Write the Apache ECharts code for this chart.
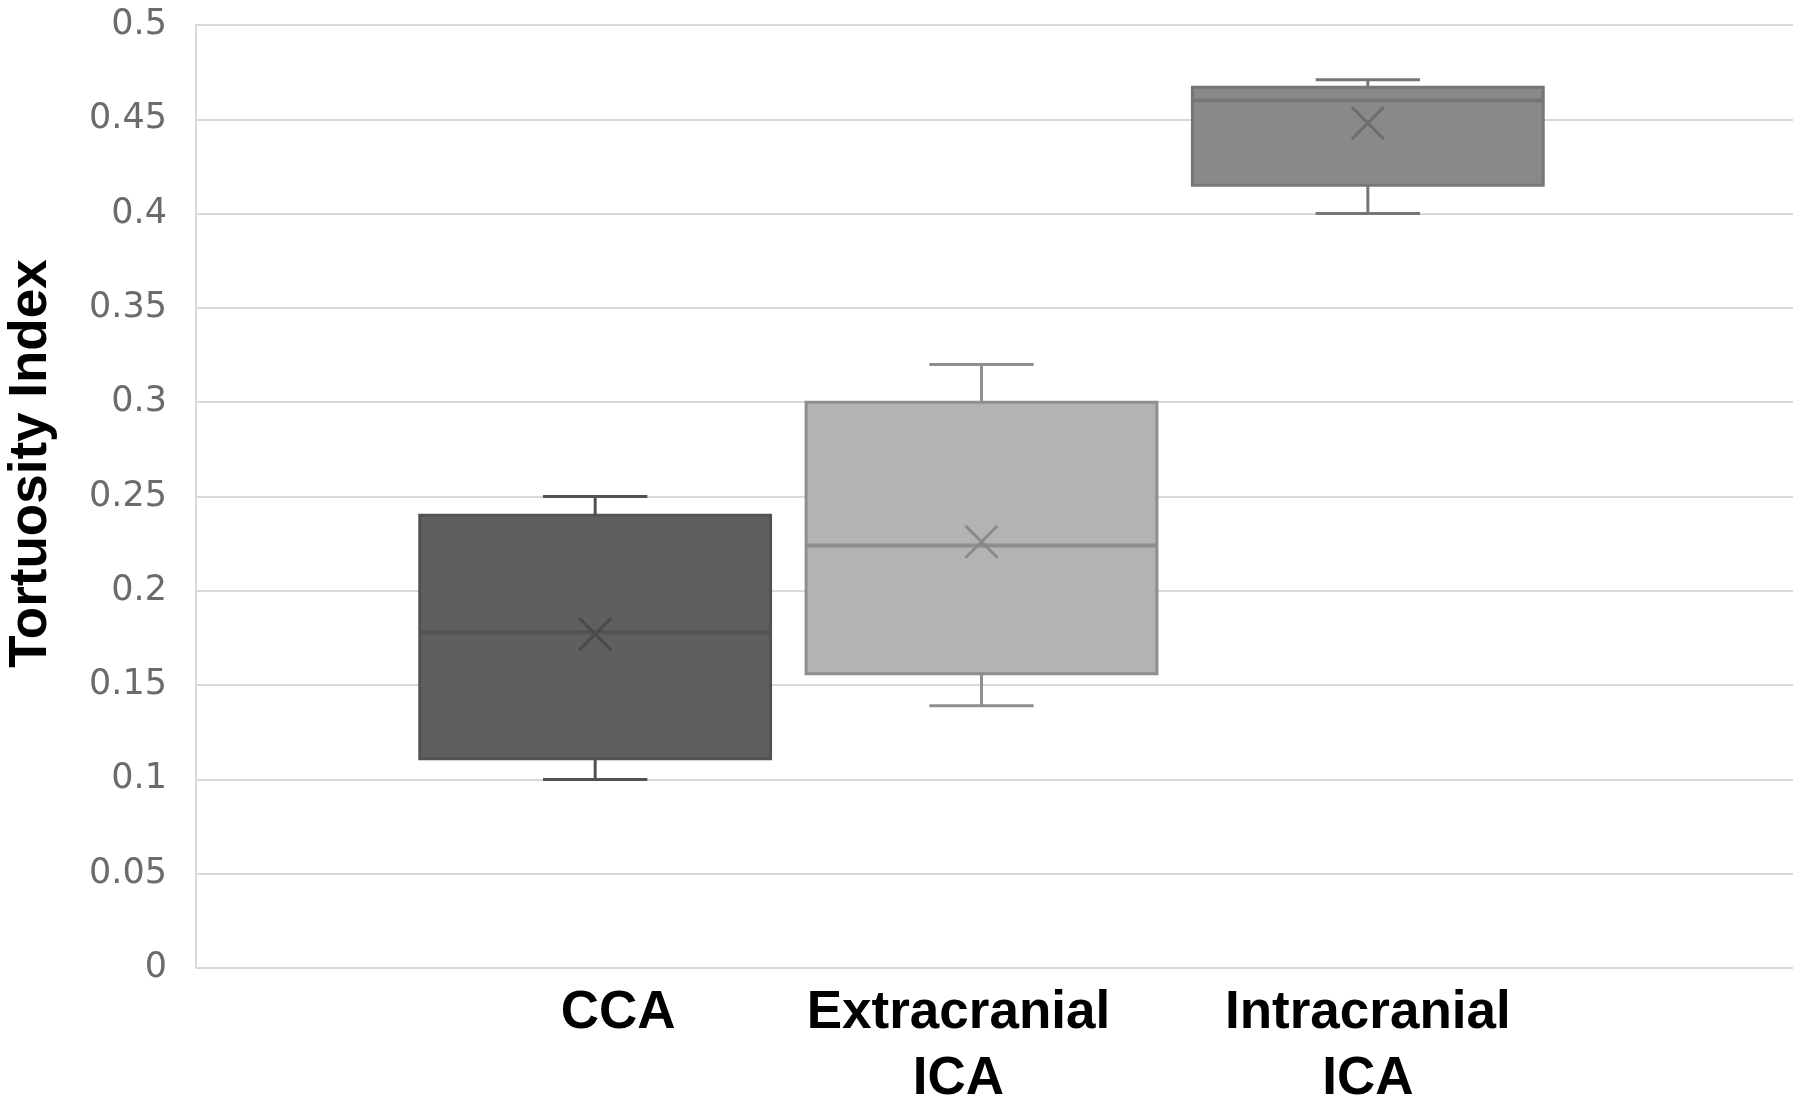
<!DOCTYPE html>
<html>
<head>
<meta charset="utf-8">
<script src="https://cdn.jsdelivr.net/npm/echarts@6/dist/echarts.min.js"></script>
<style>
html,body{margin:0;padding:0;background:#fff;}
#chart{width:1800px;height:1099px;}
</style>
</head>
<body>
<div id="chart"></div>
<script>
// ---- data ----
const categories = ['CCA', 'Extracranial\nICA', 'Intracranial\nICA'];
const whiskerMin = [0.10, 0.139, 0.40];
const quartile1 = [0.111, 0.156, 0.415];
const medians   = [0.178, 0.224, 0.46];
const quartile3 = [0.24, 0.30, 0.467];
const whiskerMax= [0.25, 0.32, 0.471];
const means     = [0.177, 0.226, 0.448];
const yTickLabels = ['0','0.05','0.1','0.15','0.2','0.25','0.3','0.35','0.4','0.45','0.5'];
const axisTitle = 'Tortuosity Index';

// ---- styles ----
const fills   = ['#5f5f5f', '#b3b3b3', '#898989'];
const strokes = ['#525252', '#8e8e8e', '#767676'];
const markCol = ['#4a4a4a', '#8a8a8a', '#6e6e6e'];
const labelPads = [[0, 0, 0, 46], [0, 46, 0, 0], [0, 0, 0, 0]];

const boxData = categories.map((c, i) => [i, whiskerMin[i], quartile1[i], medians[i], quartile3[i], whiskerMax[i], means[i]]);

const chart = echarts.init(document.getElementById('chart'));
chart.setOption({
  animation: false,
  backgroundColor: '#ffffff',
  grid: [
    {left: 196, right: 7, top: 25, bottom: 131, outerBoundsMode: 'none', containLabel: false},
    {left: 402, right: 239, top: 25, bottom: 131, outerBoundsMode: 'none', containLabel: false}
  ],
  xAxis: [
    {type: 'value', gridIndex: 0, show: false, min: 0, max: 1},
    {type: 'category', gridIndex: 1,
     data: categories.map((c, i) => ({value: c, textStyle: {padding: labelPads[i]}})),
     axisLine: {show: false}, axisTick: {show: false},
     axisLabel: {interval: 0, hideOverlap: false, color: '#000', fontFamily: 'Liberation Sans', fontWeight: 'bold', fontSize: 53, lineHeight: 66, margin: 12}}
  ],
  yAxis: [
    {type: 'value', gridIndex: 0, min: 0, max: 0.5, interval: 0.05,
     name: axisTitle, nameLocation: 'middle', nameGap: 138,
     nameTextStyle: {color: '#000', fontFamily: 'Liberation Sans', fontWeight: 'bold', fontSize: 53, padding: [0, 0, 0, 66]},
     axisLine: {show: true, lineStyle: {color: '#d9d9d9', width: 2}},
     axisTick: {show: false},
     splitLine: {show: true, lineStyle: {color: '#d9d9d9', width: 2}},
     axisLabel: {color: '#6b6b6b', fontFamily: 'DejaVu Sans', fontSize: 35, margin: 29,
       formatter: (v) => yTickLabels[Math.round(v / 0.05)]}
    },
    {type: 'value', gridIndex: 1, min: 0, max: 0.5, interval: 0.05, show: false, splitLine: {show: false}}
  ],
  series: [{
    type: 'custom',
    xAxisIndex: 1, yAxisIndex: 1,
    data: boxData,
    encode: {x: 0, y: [1, 2, 3, 4, 5, 6]},
    renderItem: function (params, api) {
      const i = params.dataIndex;
      const x = api.value(0);
      const band = api.size([1, 0])[0];
      const boxW = band * 0.908;
      const capW = band * 0.27;
      const pMin = api.coord([x, api.value(1)]);
      const pQ1 = api.coord([x, api.value(2)]);
      const pMed = api.coord([x, api.value(3)]);
      const pQ3 = api.coord([x, api.value(4)]);
      const pMax = api.coord([x, api.value(5)]);
      const pMean = api.coord([x, api.value(6)]);
      const cx = pMed[0];
      const lw = 3;
      const st = {stroke: strokes[i], lineWidth: lw};
      const xs = 16;
      return {
        type: 'group',
        children: [
          {type: 'line', shape: {x1: cx, y1: pQ3[1], x2: cx, y2: pMax[1]}, style: st},
          {type: 'line', shape: {x1: cx, y1: pQ1[1], x2: cx, y2: pMin[1]}, style: st},
          {type: 'line', shape: {x1: cx - capW / 2, y1: pMax[1], x2: cx + capW / 2, y2: pMax[1]}, style: st},
          {type: 'line', shape: {x1: cx - capW / 2, y1: pMin[1], x2: cx + capW / 2, y2: pMin[1]}, style: st},
          {type: 'rect', shape: {x: cx - boxW / 2, y: pQ3[1], width: boxW, height: pQ1[1] - pQ3[1]},
           style: {fill: fills[i], stroke: strokes[i], lineWidth: lw}},
          {type: 'line', shape: {x1: cx - boxW / 2, y1: pMed[1], x2: cx + boxW / 2, y2: pMed[1]}, style: {stroke: strokes[i], lineWidth: 4}},
          {type: 'line', shape: {x1: pMean[0] - xs, y1: pMean[1] - xs, x2: pMean[0] + xs, y2: pMean[1] + xs}, style: {stroke: markCol[i], lineWidth: 3}},
          {type: 'line', shape: {x1: pMean[0] - xs, y1: pMean[1] + xs, x2: pMean[0] + xs, y2: pMean[1] - xs}, style: {stroke: markCol[i], lineWidth: 3}}
        ]
      };
    }
  }]
});
</script>
</body>
</html>
